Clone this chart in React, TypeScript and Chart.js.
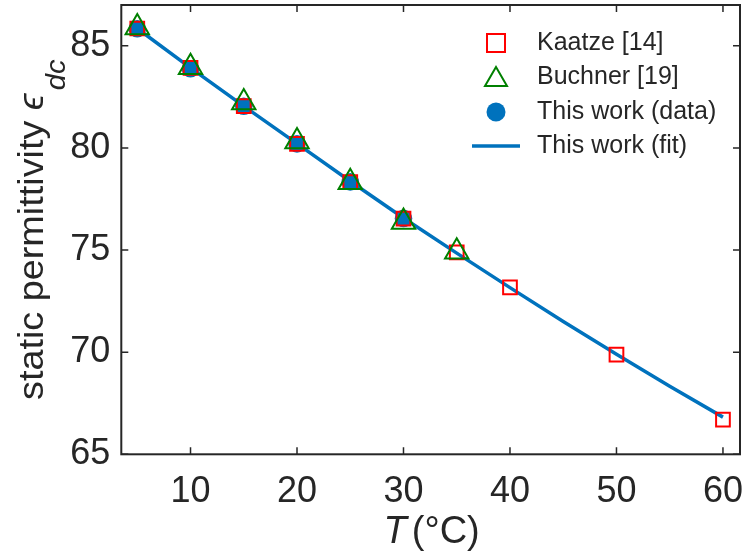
import React, { useEffect, useRef } from "react";
import { Chart, registerables } from "chart.js";

Chart.register(...registerables);

// ---- data ----
const kaatzeT = [5, 10, 15, 20, 25, 30, 35, 40, 50, 60];
const kaatzeEps = [85.85, 83.92, 82.05, 80.2, 78.33, 76.54, 74.89, 73.17, 69.88, 66.7];
const buchnerT = [5, 10, 15, 20, 25, 30, 35];
const buchnerEps = [85.9, 83.95, 82.22, 80.32, 78.32, 76.38, 74.92];
const dataT = [5, 10, 15, 20, 25, 30];
const dataEps = [85.84, 83.88, 82.04, 80.2, 78.34, 76.55];
const fitT = [5, 10, 15, 20, 25, 30, 35, 40, 45, 50, 55, 60];
const fitEps = [85.85, 83.92, 82.05, 80.21, 78.37, 76.57, 74.85, 73.16, 71.5, 69.9, 68.33, 66.82];
const xTicks = [10, 20, 30, 40, 50, 60];
const yTicks = [65, 70, 75, 80, 85];
const seriesLabels = ["Kaatze [14]", "Buchner [19]", "This work (data)", "This work (fit)"];

const FONT = '"Liberation Sans", Arial, Helvetica, sans-serif';
const INK = "#262626";
const RED = "#ff0000";
const GREEN = "#008000";
const BLUE = "#0072BD";

const pts = (xs: number[], ys: number[]) => xs.map((x, i) => ({ x, y: ys[i] }));

const decorations = {
  id: "decorations",
  afterDraw(chart: any) {
    const ctx: CanvasRenderingContext2D = chart.ctx;
    const { left, right, top, bottom } = chart.chartArea;
    const xs = chart.scales.x;
    const ys = chart.scales.y;
    ctx.save();

    // inward ticks on all four sides
    ctx.strokeStyle = INK;
    ctx.lineWidth = 1.5;
    ctx.beginPath();
    const tl = 7;
    for (const v of xTicks) {
      const px = xs.getPixelForValue(v);
      ctx.moveTo(px, bottom);
      ctx.lineTo(px, bottom - tl);
      ctx.moveTo(px, top);
      ctx.lineTo(px, top + tl);
    }
    for (const v of yTicks) {
      const py = ys.getPixelForValue(v);
      ctx.moveTo(left, py);
      ctx.lineTo(left + tl, py);
      ctx.moveTo(right, py);
      ctx.lineTo(right - tl, py);
    }
    ctx.stroke();

    // frame
    ctx.lineWidth = 2;
    ctx.strokeRect(left, top, right - left, bottom - top);

    // legend
    const mx = right - 244;
    const tx = right - 203;
    const rows = [38, 72, 107, 141].map((d) => top + d);
    ctx.lineWidth = 2;
    ctx.strokeStyle = RED;
    ctx.strokeRect(mx - 9, rows[0] - 9, 18, 18);
    ctx.strokeStyle = GREEN;
    ctx.beginPath();
    ctx.moveTo(mx, rows[1] - 10);
    ctx.lineTo(mx + 11, rows[1] + 9);
    ctx.lineTo(mx - 11, rows[1] + 9);
    ctx.closePath();
    ctx.stroke();
    ctx.fillStyle = BLUE;
    ctx.beginPath();
    ctx.arc(mx, rows[2], 9.5, 0, Math.PI * 2);
    ctx.fill();
    ctx.strokeStyle = BLUE;
    ctx.lineWidth = 3.5;
    ctx.beginPath();
    ctx.moveTo(mx - 24, rows[3]);
    ctx.lineTo(mx + 24, rows[3]);
    ctx.stroke();

    ctx.fillStyle = INK;
    ctx.font = `25px ${FONT}`;
    ctx.textAlign = "left";
    ctx.textBaseline = "middle";
    seriesLabels.forEach((s, i) => ctx.fillText(s, tx, rows[i]));

    // x title: italic T (°C)
    ctx.textBaseline = "alphabetic";
    const xf = 38;
    ctx.font = `italic ${xf}px ${FONT}`;
    const wT = ctx.measureText("T").width;
    ctx.font = `${xf}px ${FONT}`;
    const wRest = ctx.measureText("(°C)").width;
    const gap = 5;
    const cx = (left + right) / 2 + 1;
    const sx = cx - (wT + gap + wRest) / 2;
    const by = 543;
    ctx.font = `italic ${xf}px ${FONT}`;
    ctx.fillText("T", sx, by);
    ctx.font = `${xf}px ${FONT}`;
    ctx.fillText("(°C)", sx + wT + gap, by);

    // y title: static permittivity ϵ_dc (rotated, slightly stretched along its length)
    ctx.save();
    ctx.translate(43, 400);
    ctx.rotate(-Math.PI / 2);
    ctx.scale(1.08, 1);
    const yf = 35;
    ctx.font = `${yf}px ${FONT}`;
    const main = "static permittivity ";
    ctx.fillText(main, 0, 0);
    let off = ctx.measureText(main).width;
    ctx.font = `italic ${yf}px ${FONT}`;
    ctx.fillText("ϵ", off, 0);
    off += ctx.measureText("ϵ").width + 3;
    ctx.font = `italic 27px ${FONT}`;
    ctx.fillText("dc", off, 22);
    ctx.restore();

    ctx.restore();
  },
};

const noPad = (s: any) => {
  s.paddingLeft = 0;
  s.paddingRight = 0;
  s.paddingTop = 0;
  s.paddingBottom = 0;
};

export default function App() {
  const ref = useRef<HTMLCanvasElement | null>(null);

  useEffect(() => {
    if (!ref.current) return;
    const chart = new Chart(ref.current, {
      type: "scatter",
      data: {
        datasets: [
          {
            label: seriesLabels[0],
            data: pts(kaatzeT, kaatzeEps),
            pointStyle: "rect",
            pointRadius: 9.7,
            pointBorderWidth: 2,
            borderColor: RED,
            backgroundColor: "rgba(0,0,0,0)",
            order: 1,
          },
          {
            label: seriesLabels[1],
            data: pts(buchnerT, buchnerEps),
            pointStyle: "triangle",
            pointRadius: 13.5,
            pointBorderWidth: 2,
            borderColor: GREEN,
            backgroundColor: "rgba(0,0,0,0)",
            order: 0,
          },
          {
            label: seriesLabels[2],
            data: pts(dataT, dataEps),
            pointStyle: "circle",
            pointRadius: 8.8,
            pointBorderWidth: 0,
            borderColor: BLUE,
            backgroundColor: BLUE,
            order: 2,
          },
          {
            label: seriesLabels[3],
            data: pts(fitT, fitEps),
            showLine: true,
            pointRadius: 0,
            borderColor: BLUE,
            borderWidth: 3.5,
            tension: 0,
            order: 3,
          },
        ],
      },
      options: {
        animation: false,
        responsive: false,
        devicePixelRatio: 1,
        layout: { padding: { left: 0, right: 4, top: 5, bottom: 0 }, autoPadding: false },
        plugins: {
          legend: { display: false },
          tooltip: { enabled: false },
        },
        scales: {
          x: {
            type: "linear",
            min: 3.5,
            max: 61.6,
            grid: { display: false, drawTicks: false },
            border: { display: false },
            afterBuildTicks: (s: any) => {
              s.ticks = xTicks.map((v) => ({ value: v }));
            },
            afterFit: (s: any) => {
              s.height = 101.7;
              noPad(s);
            },
            ticks: {
              color: INK,
              padding: 16,
              font: { family: FONT, size: 36 },
              callback: (v: any) => String(v),
            },
          },
          y: {
            type: "linear",
            min: 65,
            max: 87,
            grid: { display: false, drawTicks: false },
            border: { display: false },
            afterBuildTicks: (s: any) => {
              s.ticks = yTicks.map((v) => ({ value: v }));
            },
            afterFit: (s: any) => {
              s.width = 121.3;
              noPad(s);
            },
            ticks: {
              color: INK,
              padding: 11,
              font: { family: FONT, size: 36 },
              callback: (v: any) => String(v),
            },
          },
        },
      },
      plugins: [decorations],
    });
    return () => chart.destroy();
  }, []);

  return (
    <div style={{ position: "absolute", left: 0, top: 0, width: 744, height: 556, background: "#fff" }}>
      <canvas ref={ref} width={744} height={556} style={{ display: "block" }} />
    </div>
  );
}
